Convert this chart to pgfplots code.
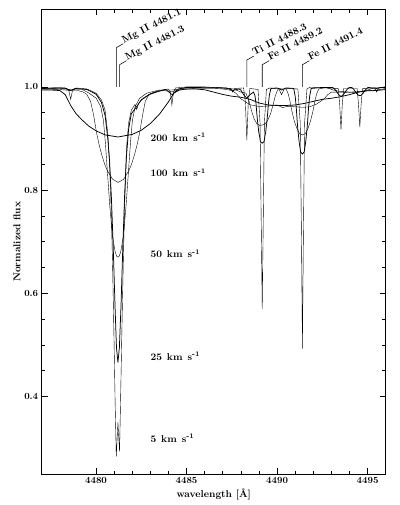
\documentclass[border=0pt]{standalone}
\usepackage{pgfplots}
\pgfplotsset{compat=1.18}
\begin{document}
\begin{tikzpicture}
\begin{axis}[
  name=ax,
  scale only axis, width=344bp, height=464.5bp,
  xmin=4477, xmax=4496, ymin=0.25, ymax=1.15,
  xtick={4480,4485,4490,4495}, minor x tick num=4,
  ytick={0.4,0.6,0.8,1.0}, minor y tick num=3,
  major tick length=6bp, minor tick length=3.5bp,
  tick style={black, line width=0.6pt},
  axis line style={line width=0.7pt},
  xticklabel style={/pgf/number format/1000 sep={}},
  yticklabel style={/pgf/number format/.cd, fixed, fixed zerofill, precision=1},
  /pgf/number format/assume math mode=true,
  ticklabel style={font=\fontsize{9.5}{11}\selectfont\bfseries},
  label style={font=\fontsize{10}{12}\selectfont\bfseries},
  xlabel={wavelength [\AA]},
  ylabel={Normalized flux},
  xlabel style={at={(axis description cs:0.5,-0.045)}, anchor=center},
  ylabel style={at={(axis description cs:-0.0718,0.5)}, anchor=center},
  clip=false,
  cycle list={{black, line width=0.75pt, mark=none}},
]
% 5 km/s
\addplot coordinates {
(4477.0,0.997)(4477.5,0.998)(4478.3,0.998)(4478.5,0.993)(4478.6,0.976)(4478.7,0.993)(4478.9,0.998)
(4479.5,0.996)(4480.0,0.988)(4480.3,0.975)(4480.5,0.955)(4480.65,0.91)(4480.75,0.85)(4480.85,0.75)
(4480.93,0.63)(4481.00,0.50)(4481.06,0.38)(4481.12,0.284)(4481.21,0.350)(4481.30,0.294)(4481.36,0.40)
(4481.43,0.53)(4481.50,0.65)(4481.58,0.77)(4481.68,0.88)(4481.80,0.93)(4481.95,0.955)(4482.15,0.966)
(4482.25,0.956)(4482.35,0.968)(4482.6,0.978)(4483.0,0.987)(4483.5,0.993)(4484.0,0.996)(4484.1,0.99)
(4484.19,0.965)(4484.28,0.99)(4484.4,0.998)(4485.0,1.0)(4486.0,1.0)(4487.0,0.998)(4487.45,0.997)
(4487.55,0.99)(4487.65,0.997)(4488.15,0.998)(4488.25,0.97)(4488.33,0.897)(4488.41,0.97)(4488.5,0.997)
(4488.95,0.995)(4489.06,0.93)(4489.13,0.72)(4489.18,0.570)(4489.23,0.72)(4489.30,0.93)(4489.41,0.995)
(4489.6,0.998)(4490.1,0.996)(4490.25,0.985)(4490.4,0.997)(4491.15,0.996)(4491.28,0.93)(4491.35,0.70)
(4491.40,0.493)(4491.45,0.70)(4491.52,0.93)(4491.65,0.996)(4491.8,0.999)(4493.38,0.997)(4493.46,0.965)
(4493.53,0.917)(4493.60,0.965)(4493.68,0.997)(4494.42,0.997)(4494.50,0.965)(4494.57,0.922)(4494.64,0.965)
(4494.72,0.997)(4495.4,0.998)(4495.5,0.99)(4495.6,0.998)(4496.0,1.0)
};
% 25 km/s
\addplot coordinates {
(4477.0,0.997)(4478.0,0.998)(4478.35,0.997)(4478.6,0.993)(4478.85,0.997)(4479.5,0.995)(4480.0,0.986)
(4480.3,0.970)(4480.5,0.945)(4480.65,0.90)(4480.75,0.855)(4480.85,0.785)(4480.95,0.69)(4481.05,0.575)
(4481.13,0.495)(4481.21,0.466)(4481.29,0.495)(4481.38,0.575)(4481.48,0.69)(4481.58,0.79)(4481.68,0.865)
(4481.80,0.918)(4481.95,0.948)(4482.25,0.962)(4482.5,0.975)(4483.0,0.986)(4483.5,0.992)(4483.85,0.995)
(4484.2,0.985)(4484.55,0.996)(4485.0,0.999)(4487.2,0.998)(4487.55,0.993)(4487.9,0.996)(4488.0,0.994)
(4488.15,0.985)(4488.33,0.978)(4488.5,0.985)(4488.7,0.99)(4488.78,0.983)(4488.84,0.967)(4488.88,0.949)
(4488.92,0.934)(4488.99,0.912)(4489.03,0.905)(4489.08,0.894)(4489.18,0.891)(4489.28,0.894)(4489.33,0.905)
(4489.37,0.912)(4489.44,0.934)(4489.48,0.949)(4489.52,0.967)(4489.58,0.985)(4489.66,0.997)(4490.0,0.998)
(4490.25,0.994)(4490.5,0.998)(4490.92,0.997)(4491.00,0.982)(4491.06,0.96)(4491.10,0.939)(4491.14,0.921)
(4491.21,0.896)(4491.25,0.886)(4491.30,0.874)(4491.40,0.870)(4491.50,0.874)(4491.55,0.886)(4491.59,0.896)
(4491.66,0.921)(4491.70,0.939)(4491.74,0.96)(4491.80,0.982)(4491.88,0.997)(4492.5,0.999)(4493.08,0.999)
(4493.2,0.995)(4493.34,0.988)(4493.45,0.983)(4493.53,0.982)(4493.61,0.983)(4493.72,0.988)(4493.86,0.995)
(4493.98,0.999)(4494.12,0.999)(4494.24,0.995)(4494.38,0.988)(4494.49,0.984)(4494.57,0.983)(4494.65,0.984)
(4494.76,0.988)(4494.90,0.995)(4495.02,0.999)(4495.5,0.997)(4496.0,1.0)
};
% 50 km/s
\addplot coordinates {
(4477.0,0.996)(4478.0,0.997)(4478.6,0.995)(4479.2,0.996)(4479.61,0.988)(4480.01,0.978)(4480.26,0.962)
(4480.41,0.935)(4480.51,0.895)(4480.61,0.845)(4480.76,0.77)(4480.91,0.71)(4481.06,0.68)(4481.14,0.672)
(4481.21,0.670)(4481.28,0.672)(4481.36,0.68)(4481.51,0.71)(4481.66,0.77)(4481.81,0.845)(4481.91,0.895)
(4482.01,0.935)(4482.16,0.962)(4482.41,0.978)(4482.81,0.988)(4483.5,0.994)(4484.2,0.994)(4485.0,0.998)
(4487.0,0.998)(4487.6,0.996)(4488.0,0.99)(4488.28,0.988)(4488.38,0.979)(4488.48,0.969)(4488.58,0.955)
(4488.73,0.938)(4488.88,0.929)(4489.03,0.9255)(4489.18,0.926)(4489.33,0.928)(4489.48,0.935)(4489.63,0.947)
(4489.78,0.965)(4489.88,0.98)(4489.98,0.99)(4490.08,0.997)(4490.3,0.996)(4490.50,0.996)(4490.60,0.988)
(4490.70,0.975)(4490.80,0.956)(4490.95,0.934)(4491.10,0.919)(4491.25,0.909)(4491.40,0.907)(4491.55,0.909)
(4491.70,0.919)(4491.85,0.934)(4492.00,0.956)(4492.10,0.975)(4492.20,0.988)(4492.30,0.996)(4492.7,0.999)
(4492.8,0.998)(4493.1,0.994)(4493.53,0.991)(4494.05,0.99)(4494.57,0.991)(4495.0,0.994)(4495.35,0.998)
(4496.0,0.999)
};
% 100 km/s
\addplot coordinates {
(4477.0,0.996)(4478.0,0.995)(4478.6,0.993)(4479.0,0.993)(4479.3,0.99)(4479.5,0.985)(4479.7,0.972)
(4479.87,0.945)(4480.02,0.913)(4480.17,0.888)(4480.32,0.868)(4480.47,0.851)(4480.62,0.838)(4480.92,0.821)
(4481.22,0.815)(4481.52,0.821)(4481.82,0.838)(4481.97,0.851)(4482.12,0.868)(4482.27,0.888)(4482.42,0.913)
(4482.57,0.945)(4482.72,0.972)(4482.92,0.985)(4483.22,0.99)(4483.7,0.993)(4484.2,0.991)(4484.7,0.995)
(4485.5,0.997)(4486.5,0.997)(4487.0,0.996)(4487.5,0.993)(4487.75,0.987)(4488.0,0.977)(4488.5,0.9655)
(4489.0,0.962)(4489.5,0.963)(4490.0,0.965)(4490.3,0.960)(4490.6,0.9625)(4491.0,0.9615)(4491.4,0.9605)
(4491.8,0.9615)(4492.2,0.967)(4492.6,0.977)(4492.8,0.985)(4493.0,0.99)(4493.5,0.99)(4494.0,0.989)
(4494.5,0.99)(4495.0,0.993)(4495.5,0.994)(4496.0,0.997)
};
% 200 km/s
\addplot coordinates {
(4477.0,0.994)(4477.5,0.994)(4478.0,0.993)(4478.3,0.985)(4478.6,0.964)(4478.9,0.948)(4479.2,0.937)
(4479.6,0.924)(4480.0,0.915)(4480.5,0.907)(4481.22,0.903)(4482.0,0.908)(4482.5,0.916)(4483.0,0.929)
(4483.5,0.947)(4484.0,0.971)(4484.3,0.988)(4484.6,0.994)(4485.0,0.996)(4485.5,0.996)(4486.0,0.9945)
(4486.5,0.990)(4487.0,0.9854)(4487.5,0.982)(4488.0,0.980)(4488.5,0.976)(4489.0,0.969)(4489.5,0.965)
(4490.0,0.964)(4490.5,0.964)(4491.0,0.965)(4491.5,0.968)(4492.0,0.972)(4492.5,0.976)(4493.0,0.978)
(4493.5,0.981)(4494.0,0.985)(4494.5,0.99)(4495.0,0.9925)(4495.5,0.993)(4496.0,0.995)
};
% velocity labels
\begin{scope}[font=\fontsize{10}{12}\selectfont\bfseries]
\node[anchor=west, inner sep=0pt] at (axis cs:4483.0,0.903) {200\enspace km\enspace s\textsuperscript{-1}};
\node[anchor=west, inner sep=0pt] at (axis cs:4483.0,0.834) {100\enspace km\enspace s\textsuperscript{-1}};
\node[anchor=west, inner sep=0pt] at (axis cs:4483.0,0.677) {50\enspace km\enspace s\textsuperscript{-1}};
\node[anchor=west, inner sep=0pt] at (axis cs:4483.0,0.478) {25\enspace km\enspace s\textsuperscript{-1}};
\node[anchor=west, inner sep=0pt] at (axis cs:4483.0,0.319) {5\enspace km\enspace s\textsuperscript{-1}};
\end{scope}
% line identifications
\begin{scope}[font=\fontsize{10}{12}\selectfont\bfseries]
\draw[line width=0.55pt] (axis cs:4481.12,1.0) -- (axis cs:4481.12,1.076) -- ++(30:8bp)
  node[anchor=base west, rotate=27, inner sep=0.5bp] {Mg II 4481.1};
\draw[line width=0.55pt] (axis cs:4481.30,1.0) -- (axis cs:4481.30,1.043) -- ++(30:8bp)
  node[anchor=base west, rotate=27, inner sep=0.5bp] {Mg II 4481.3};
\draw[line width=0.55pt] (axis cs:4488.33,1.0) -- (axis cs:4488.33,1.052) -- ++(30:8bp)
  node[anchor=base west, rotate=27, inner sep=0.5bp] {Ti II 4488.3};
\draw[line width=0.55pt] (axis cs:4489.18,1.0) -- (axis cs:4489.18,1.043) -- ++(30:8bp)
  node[anchor=base west, rotate=27, inner sep=0.5bp] {Fe II 4489.2};
\draw[line width=0.55pt] (axis cs:4491.40,1.0) -- (axis cs:4491.40,1.043) -- ++(30:8bp)
  node[anchor=base west, rotate=27, inner sep=0.5bp] {Fe II 4491.4};
\end{scope}
\end{axis}
\pgfresetboundingbox
\path ([shift={(-41.7bp,-31bp)}]ax.south west) rectangle ([shift={(13.3bp,9.5bp)}]ax.north east);
\end{tikzpicture}
\end{document}
